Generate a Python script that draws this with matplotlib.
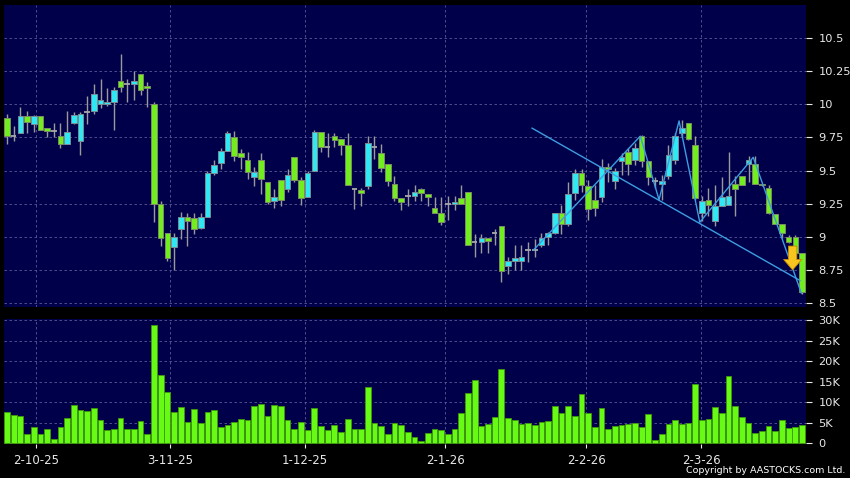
"""Candlestick + volume chart, AASTOCKS style."""
import matplotlib
matplotlib.use('Agg')
import matplotlib.pyplot as plt
import numpy as np

# ---- data (prices in HKD, volume in thousands) ----
opens = [9.90, 9.76, 9.78, 9.91, 9.85, 9.91, 9.82, 9.80, 9.76, 9.70,
         9.86, 9.72, 9.94, 9.95, 10.00, 10.00, 10.02, 10.18, 10.15, 10.15,
         10.23, 10.14, 10.00, 9.25, 9.03, 8.92, 9.06, 9.15, 9.14, 9.07,
         9.15, 9.48, 9.56, 9.65, 9.75, 9.63, 9.58, 9.45, 9.58, 9.41,
         9.27, 9.43, 9.36, 9.60, 9.43, 9.30, 9.50, 9.79, 9.68, 9.76,
         9.74, 9.69, 9.36, 9.35, 9.38, 9.68, 9.63, 9.55, 9.40, 9.29,
         9.31, 9.31, 9.36, 9.32, 9.22, 9.18, 9.25, 9.25, 9.29, 9.34,
         8.96, 8.96, 8.99, 9.03, 9.08, 8.78, 8.82, 8.82, 8.90, 8.90,
         8.94, 9.00, 9.03, 9.18, 9.10, 9.33, 9.48, 9.38, 9.28, 9.30,
         9.53, 9.42, 9.57, 9.64, 9.58, 9.76, 9.57, 9.42, 9.40, 9.46,
         9.58, 9.78, 9.86, 9.69, 9.18, 9.28, 9.12, 9.23, 9.24, 9.40,
         9.46, 9.55, 9.55, 9.40, 9.37, 9.17, 9.10, 9.00, 9.00, 8.88]
highs = [9.93, 9.84, 9.98, 9.95, 9.92, 9.91, 9.82, 9.86, 9.86, 9.95,
         9.94, 9.94, 10.06, 10.15, 10.19, 10.12, 10.13, 10.38, 10.19, 10.25,
         10.23, 10.17, 10.02, 9.27, 9.03, 9.03, 9.19, 9.18, 9.18, 9.18,
         9.50, 9.58, 9.67, 9.80, 9.80, 9.66, 9.64, 9.53, 9.63, 9.41,
         9.36, 9.43, 9.51, 9.60, 9.45, 9.50, 9.81, 9.79, 9.78, 9.78,
         9.74, 9.78, 9.36, 9.37, 9.76, 9.76, 9.70, 9.55, 9.46, 9.29,
         9.36, 9.39, 9.37, 9.32, 9.30, 9.30, 9.31, 9.31, 9.39, 9.34,
         9.02, 9.02, 8.99, 9.06, 9.08, 8.85, 8.94, 8.94, 8.96, 8.98,
         9.03, 9.04, 9.18, 9.24, 9.41, 9.51, 9.51, 9.43, 9.39, 9.59,
         9.56, 9.52, 9.63, 9.67, 9.71, 9.77, 9.57, 9.45, 9.47, 9.69,
         9.78, 9.88, 9.86, 9.76, 9.31, 9.37, 9.39, 9.45, 9.64, 9.46,
         9.46, 9.61, 9.61, 9.40, 9.39, 9.17, 9.10, 9.01, 9.01, 8.88]
lows = [9.70, 9.72, 9.78, 9.78, 9.79, 9.81, 9.75, 9.75, 9.67, 9.70,
        9.85, 9.62, 9.85, 9.93, 9.97, 9.99, 9.81, 10.09, 10.02, 10.03,
        10.07, 9.98, 9.11, 8.93, 8.82, 8.75, 8.98, 8.93, 9.02, 9.06,
        9.15, 9.47, 9.51, 9.65, 9.57, 9.51, 9.44, 9.38, 9.32, 9.25,
        9.22, 9.23, 9.34, 9.41, 9.24, 9.30, 9.50, 9.64, 9.60, 9.68,
        9.62, 9.39, 9.21, 9.23, 9.36, 9.59, 9.49, 9.38, 9.27, 9.20,
        9.23, 9.27, 9.27, 9.23, 9.18, 9.09, 9.13, 9.20, 9.25, 8.94,
        8.85, 8.88, 8.88, 8.94, 8.66, 8.72, 8.75, 8.75, 8.81, 8.85,
        8.92, 8.94, 9.02, 9.02, 9.08, 9.28, 9.34, 9.13, 9.16, 9.26,
        9.41, 9.36, 9.47, 9.47, 9.54, 9.53, 9.39, 9.37, 9.28, 9.44,
        9.55, 9.75, 9.73, 9.28, 9.12, 9.16, 9.08, 9.23, 9.24, 9.16,
        9.39, 9.41, 9.40, 9.38, 9.17, 9.10, 8.99, 8.95, 8.87, 8.57]
closes = [9.76, 9.76, 9.91, 9.87, 9.91, 9.81, 9.80, 9.80, 9.70, 9.79,
          9.92, 9.93, 9.94, 10.08, 10.03, 10.02, 10.11, 10.13, 10.15, 10.18,
          10.11, 10.12, 9.25, 8.99, 8.84, 9.00, 9.15, 9.12, 9.06, 9.15,
          9.48, 9.54, 9.65, 9.78, 9.61, 9.60, 9.49, 9.49, 9.44, 9.26,
          9.30, 9.28, 9.47, 9.43, 9.29, 9.48, 9.79, 9.68, 9.68, 9.73,
          9.69, 9.39, 9.36, 9.33, 9.71, 9.68, 9.52, 9.42, 9.29, 9.26,
          9.31, 9.34, 9.33, 9.30, 9.18, 9.11, 9.25, 9.26, 9.25, 8.94,
          8.96, 8.99, 8.97, 9.03, 8.74, 8.82, 8.84, 8.85, 8.90, 8.90,
          8.99, 9.03, 9.18, 9.10, 9.32, 9.48, 9.39, 9.21, 9.22, 9.53,
          9.51, 9.50, 9.60, 9.55, 9.67, 9.57, 9.45, 9.42, 9.42, 9.62,
          9.76, 9.82, 9.74, 9.29, 9.27, 9.24, 9.23, 9.30, 9.31, 9.36,
          9.39, 9.58, 9.40, 9.39, 9.18, 9.10, 9.03, 8.96, 8.88, 8.58]
volumes_k = [7.7, 6.8, 6.65, 2.4, 4.0, 2.3, 3.5, 1.1, 4.0, 6.2,
             9.3, 8.1, 7.9, 8.7, 5.7, 3.2, 3.6, 6.2, 3.4, 3.4,
             5.4, 2.3, 28.7, 16.7, 12.4, 7.7, 8.8, 5.2, 8.4, 4.9,
             7.6, 8.2, 4.0, 4.4, 5.3, 5.9, 5.6, 9.1, 9.5, 6.6,
             9.4, 9.1, 5.7, 3.4, 5.1, 3.3, 8.5, 4.3, 3.2, 4.4,
             2.8, 5.9, 3.6, 3.6, 13.6, 4.9, 4.3, 2.4, 4.9, 4.5,
             2.8, 1.6, 0.6, 2.6, 3.4, 3.2, 2.4, 3.6, 7.3, 12.2,
             15.4, 4.2, 4.7, 6.4, 18.2, 6.1, 5.6, 4.7, 4.9, 4.5,
             5.2, 5.4, 9.1, 7.5, 9.0, 6.6, 12.0, 7.4, 4.1, 8.5,
             3.6, 4.2, 4.5, 4.6, 4.9, 3.9, 7.1, 0.8, 2.4, 4.8,
             5.6, 4.8, 4.9, 14.4, 5.6, 5.9, 8.8, 7.5, 16.5, 9.1,
             6.3, 5.0, 2.5, 2.9, 4.3, 3.0, 5.8, 3.8, 3.9, 4.4]

date_labels = ['2-10-25', '3-11-25', '1-12-25', '2-1-26', '2-2-26', '2-3-26']
date_pos = [4.3, 24.4, 44.6, 65.6, 86.7, 103.9]
price_ticks = [8.5, 8.75, 9, 9.25, 9.5, 9.75, 10, 10.25, 10.5]
price_labels = ['8.5', '8.75', '9', '9.25', '9.5', '9.75', '10', '10.25', '10.5']
vol_ticks = [0, 5, 10, 15, 20, 25, 30]
vol_labels = ['0', '5K', '10K', '15K', '20K', '25K', '30K']

# drawn overlays: zig-zag swing line, down-trend line, sell arrow
zig_x = [78.8, 94.8, 97.6, 100.6, 103.7, 111.7, 118.9]
zig_y = [8.90, 9.76, 9.28, 9.875, 9.11, 9.60, 8.575]
trend_x = [78.6, 118.7]
trend_y = [9.82, 8.67]
arrow_x, arrow_top, arrow_tip = 117.6, 8.93, 8.75

BG = '#00004a'
UP = '#2ee8f4'
DOWN = '#72ee1e'
GRID = dict(color='#5a5a98', linestyle=(0, (3, 3)), linewidth=0.6)
TXT = '#e8e8e8'

o, h, l, c = map(np.array, (opens, highs, lows, closes))
x = np.arange(len(o))
up = c > o
dn = c < o
flat = c == o

fig = plt.figure(figsize=(8.5, 4.78), dpi=100, facecolor='black')
ax = fig.add_axes([4 / 850, 1 - 307 / 478, 802 / 850, 302 / 478], facecolor=BG)
axv = fig.add_axes([4 / 850, 1 - 444 / 478, 802 / 850, 125 / 478], facecolor=BG)

# ---- price panel ----
ax.vlines(x, l, h, color='#9a9a9a', lw=1.0, zorder=2)
w = 0.84
ax.bar(x[up], (c - o)[up], bottom=o[up], width=w, color=UP, edgecolor='#7a8c94', lw=0.7, zorder=3)
ax.bar(x[dn], (o - c)[dn], bottom=c[dn], width=w, color=DOWN, edgecolor='#7c8c64', lw=0.7, zorder=3)
ax.hlines(c[flat], x[flat] - w / 2, x[flat] + w / 2, color='#a8a8a8', lw=1.3, zorder=3)

ax.plot(zig_x, zig_y, color='#3c9ee0', lw=1.0, zorder=4)
ax.plot(trend_x, trend_y, color='#3c9ee0', lw=1.0, zorder=4)
ax.annotate('', xy=(arrow_x, arrow_tip), xytext=(arrow_x, arrow_top),
            arrowprops=dict(arrowstyle='simple,head_length=0.75,head_width=1.3,tail_width=0.6',
                            fc='#f8c420', ec='#c88a00', lw=0.6, shrinkA=0, shrinkB=0), zorder=5)

ax.set_xlim(-0.45, 119.6)
ax.set_ylim(8.47, 10.75)
ax.set_yticks(price_ticks)
ax.set_yticklabels(price_labels)
ax.set_xticks(date_pos)
ax.tick_params(axis='x', length=0, labelbottom=False)

# ---- volume panel ----
axv.bar(x, volumes_k, width=0.86, color='#66fa14', edgecolor='#3f9a0a', lw=0.6, zorder=3)
axv.set_xlim(-0.45, 119.6)
axv.set_ylim(-0.15, 30.25)
axv.set_yticks(vol_ticks)
axv.set_yticklabels(vol_labels)
axv.set_xticks(date_pos)
axv.set_xticklabels(date_labels)
axv.tick_params(axis='x', length=3, width=0.8, colors=TXT, labelsize=8.5, pad=4)

for a in (ax, axv):
    a.yaxis.tick_right()
    a.tick_params(axis='y', length=4, width=0.8, colors=TXT, labelsize=8.2, pad=5)
    a.grid(True, **GRID)
    a.set_axisbelow(True)
    for s in a.spines.values():
        s.set_visible(False)

fig.text(0.994, 0.006, 'Copyright by AASTOCKS.com Ltd.', ha='right', va='bottom',
         fontsize=6.8, color='white')

fig.savefig('out.png', dpi=100, facecolor='black')
